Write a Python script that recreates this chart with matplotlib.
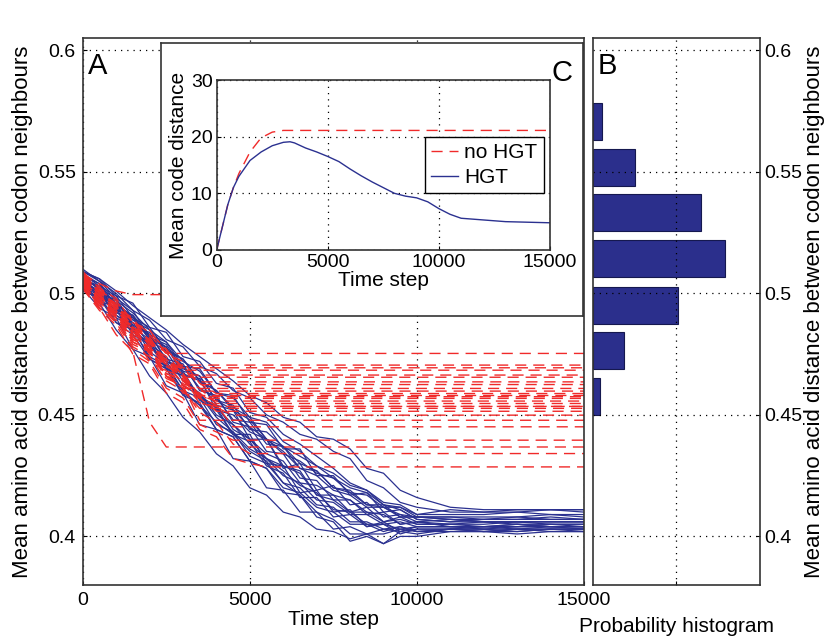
import matplotlib
matplotlib.use("Agg")
import matplotlib.pyplot as plt

plt.rcParams["font.family"] = ["Liberation Sans", "DejaVu Sans"]

# ---- panel A: mean amino acid distance over time ----
t_grid = [0, 500, 1000, 1500, 2000, 2500, 3000, 3500, 4000, 4500, 5000,
          5500, 6000, 6500, 7000, 7500, 8000, 8500, 9000, 9500, 10000,
          11000, 12000, 13000, 14000, 15000]

# HGT runs (blue, solid)
blue_runs = [
    [0.508, 0.503, 0.499, 0.490, 0.486, 0.477, 0.473, 0.464, 0.460, 0.452, 0.448, 0.440, 0.437, 0.430, 0.427, 0.420, 0.418, 0.413, 0.412, 0.409, 0.408, 0.408, 0.407, 0.408, 0.407, 0.407],
    [0.503, 0.499, 0.488, 0.485, 0.474, 0.470, 0.460, 0.457, 0.446, 0.443, 0.433, 0.430, 0.422, 0.420, 0.413, 0.412, 0.406, 0.406, 0.403, 0.404, 0.402, 0.403, 0.402, 0.402, 0.403, 0.402],
    [0.506, 0.500, 0.497, 0.487, 0.483, 0.473, 0.471, 0.460, 0.458, 0.447, 0.445, 0.435, 0.434, 0.424, 0.423, 0.415, 0.415, 0.409, 0.410, 0.405, 0.406, 0.405, 0.405, 0.406, 0.405, 0.405],
    [0.509, 0.506, 0.499, 0.496, 0.486, 0.484, 0.474, 0.472, 0.463, 0.461, 0.451, 0.449, 0.442, 0.438, 0.433, 0.428, 0.422, 0.419, 0.413, 0.412, 0.408, 0.407, 0.406, 0.406, 0.406, 0.406],
    [0.502, 0.494, 0.490, 0.477, 0.474, 0.462, 0.459, 0.446, 0.444, 0.432, 0.431, 0.420, 0.419, 0.410, 0.410, 0.403, 0.404, 0.401, 0.403, 0.402, 0.403, 0.403, 0.404, 0.403, 0.403, 0.403],
    [0.505, 0.503, 0.492, 0.490, 0.481, 0.476, 0.466, 0.465, 0.452, 0.450, 0.443, 0.440, 0.428, 0.430, 0.419, 0.421, 0.413, 0.414, 0.408, 0.409, 0.406, 0.407, 0.406, 0.406, 0.406, 0.406],
    [0.507, 0.498, 0.496, 0.485, 0.479, 0.470, 0.466, 0.458, 0.453, 0.442, 0.442, 0.430, 0.429, 0.418, 0.419, 0.410, 0.411, 0.404, 0.406, 0.402, 0.404, 0.404, 0.404, 0.405, 0.404, 0.404],
    [0.504, 0.501, 0.493, 0.491, 0.481, 0.478, 0.467, 0.464, 0.454, 0.452, 0.440, 0.440, 0.429, 0.427, 0.417, 0.417, 0.410, 0.412, 0.406, 0.408, 0.405, 0.405, 0.404, 0.404, 0.404, 0.404],
    [0.510, 0.505, 0.500, 0.493, 0.489, 0.481, 0.478, 0.470, 0.467, 0.460, 0.457, 0.450, 0.447, 0.442, 0.440, 0.435, 0.432, 0.423, 0.420, 0.414, 0.412, 0.410, 0.410, 0.410, 0.411, 0.410],
    [0.501, 0.498, 0.490, 0.486, 0.473, 0.469, 0.459, 0.454, 0.444, 0.441, 0.431, 0.428, 0.418, 0.417, 0.408, 0.406, 0.398, 0.400, 0.397, 0.402, 0.401, 0.403, 0.403, 0.402, 0.403, 0.403],
    [0.506, 0.502, 0.498, 0.486, 0.481, 0.472, 0.468, 0.457, 0.453, 0.446, 0.440, 0.434, 0.431, 0.422, 0.421, 0.417, 0.415, 0.410, 0.409, 0.405, 0.406, 0.404, 0.404, 0.404, 0.405, 0.404],
    [0.503, 0.500, 0.491, 0.486, 0.478, 0.472, 0.462, 0.458, 0.449, 0.443, 0.436, 0.432, 0.425, 0.422, 0.415, 0.414, 0.409, 0.409, 0.405, 0.406, 0.404, 0.404, 0.403, 0.404, 0.404, 0.404],
    [0.508, 0.501, 0.497, 0.489, 0.485, 0.476, 0.473, 0.464, 0.460, 0.453, 0.449, 0.440, 0.435, 0.428, 0.425, 0.419, 0.417, 0.412, 0.412, 0.408, 0.408, 0.407, 0.407, 0.407, 0.408, 0.407],
    [0.505, 0.501, 0.491, 0.487, 0.476, 0.471, 0.460, 0.454, 0.447, 0.442, 0.435, 0.431, 0.422, 0.417, 0.410, 0.407, 0.401, 0.401, 0.397, 0.400, 0.400, 0.402, 0.402, 0.401, 0.402, 0.402],
    [0.507, 0.504, 0.497, 0.492, 0.485, 0.480, 0.472, 0.468, 0.459, 0.457, 0.449, 0.447, 0.439, 0.435, 0.429, 0.426, 0.421, 0.419, 0.414, 0.413, 0.409, 0.409, 0.409, 0.410, 0.409, 0.409],
    [0.504, 0.497, 0.494, 0.483, 0.479, 0.469, 0.466, 0.457, 0.454, 0.444, 0.440, 0.432, 0.429, 0.426, 0.417, 0.415, 0.410, 0.410, 0.406, 0.407, 0.405, 0.405, 0.406, 0.405, 0.405, 0.405],
    [0.509, 0.505, 0.498, 0.493, 0.482, 0.479, 0.469, 0.466, 0.456, 0.452, 0.445, 0.440, 0.434, 0.431, 0.426, 0.424, 0.418, 0.417, 0.412, 0.412, 0.409, 0.411, 0.410, 0.411, 0.411, 0.411],
    [0.502, 0.498, 0.488, 0.483, 0.473, 0.469, 0.458, 0.455, 0.444, 0.441, 0.431, 0.428, 0.420, 0.418, 0.412, 0.410, 0.405, 0.405, 0.402, 0.404, 0.402, 0.403, 0.403, 0.403, 0.404, 0.403],
    [0.503, 0.496, 0.485, 0.477, 0.466, 0.459, 0.449, 0.443, 0.434, 0.429, 0.420, 0.417, 0.410, 0.408, 0.403, 0.402, 0.399, 0.401, 0.401, 0.403, 0.402, 0.402, 0.402, 0.403, 0.402, 0.402],
    [0.507, 0.502, 0.496, 0.490, 0.482, 0.478, 0.468, 0.466, 0.456, 0.454, 0.444, 0.443, 0.437, 0.433, 0.429, 0.424, 0.420, 0.418, 0.413, 0.411, 0.407, 0.406, 0.406, 0.406, 0.406, 0.406],
    [0.505, 0.499, 0.493, 0.484, 0.480, 0.470, 0.467, 0.456, 0.452, 0.442, 0.439, 0.429, 0.426, 0.416, 0.416, 0.408, 0.409, 0.404, 0.405, 0.401, 0.403, 0.403, 0.402, 0.403, 0.403, 0.403],
    [0.508, 0.504, 0.495, 0.491, 0.483, 0.480, 0.470, 0.469, 0.459, 0.458, 0.447, 0.446, 0.436, 0.436, 0.425, 0.425, 0.417, 0.418, 0.410, 0.411, 0.407, 0.406, 0.407, 0.407, 0.407, 0.407],
    [0.504, 0.500, 0.495, 0.486, 0.484, 0.472, 0.470, 0.461, 0.457, 0.448, 0.447, 0.438, 0.437, 0.428, 0.427, 0.420, 0.419, 0.413, 0.413, 0.408, 0.408, 0.408, 0.408, 0.408, 0.409, 0.408],
    [0.506, 0.503, 0.494, 0.488, 0.479, 0.474, 0.464, 0.459, 0.450, 0.446, 0.438, 0.432, 0.427, 0.421, 0.418, 0.411, 0.410, 0.405, 0.405, 0.403, 0.404, 0.404, 0.404, 0.405, 0.404, 0.404],
    [0.509, 0.506, 0.501, 0.495, 0.490, 0.485, 0.479, 0.474, 0.469, 0.464, 0.458, 0.455, 0.449, 0.447, 0.441, 0.440, 0.436, 0.428, 0.426, 0.419, 0.416, 0.412, 0.411, 0.411, 0.411, 0.411],
]

# no-HGT runs (red, dashed): values until the code freezes, last value = plateau
red_runs = [
    [0.507, 0.500, 0.496, 0.486, 0.483, 0.4753],
    [0.505, 0.497, 0.493, 0.482, 0.478, 0.4705],
    [0.508, 0.503, 0.494, 0.490, 0.480, 0.477, 0.4684],
    [0.504, 0.500, 0.490, 0.487, 0.476, 0.473, 0.4664],
    [0.506, 0.498, 0.494, 0.484, 0.481, 0.471, 0.469, 0.4636],
    [0.503, 0.495, 0.490, 0.479, 0.476, 0.466, 0.4609],
    [0.509, 0.502, 0.498, 0.488, 0.485, 0.475, 0.472, 0.463, 0.4588],
    [0.505, 0.496, 0.492, 0.481, 0.478, 0.467, 0.465, 0.4568],
    [0.507, 0.501, 0.493, 0.489, 0.478, 0.474, 0.464, 0.461, 0.4547],
    [0.502, 0.494, 0.489, 0.478, 0.474, 0.464, 0.460, 0.4527],
    [0.506, 0.497, 0.494, 0.483, 0.480, 0.468, 0.466, 0.455, 0.453, 0.4499],
    [0.504, 0.496, 0.491, 0.480, 0.476, 0.465, 0.462, 0.4478],
    [0.508, 0.501, 0.495, 0.486, 0.481, 0.471, 0.467, 0.457, 0.454, 0.4451],
    [0.503, 0.494, 0.488, 0.477, 0.472, 0.461, 0.457, 0.446, 0.443, 0.4396],
    [0.505, 0.494, 0.483, 0.476, 0.447, 0.4368],
    [0.506, 0.499, 0.492, 0.482, 0.477, 0.466, 0.461, 0.451, 0.447, 0.438, 0.4341],
    [0.502, 0.493, 0.487, 0.475, 0.471, 0.459, 0.455, 0.444, 0.441, 0.432, 0.430, 0.4286],
    [0.506, 0.499, 0.495, 0.485, 0.482, 0.472, 0.469, 0.4625],
    [0.504, 0.498, 0.490, 0.485, 0.475, 0.471, 0.463, 0.4598],
    [0.508, 0.500, 0.495, 0.485, 0.481, 0.470, 0.467, 0.458, 0.4557],
    [0.505, 0.499, 0.491, 0.486, 0.476, 0.472, 0.462, 0.459, 0.4535],
    [0.507, 0.499, 0.494, 0.484, 0.481, 0.470, 0.466, 0.4575],
    [0.503, 0.497, 0.488, 0.483, 0.472, 0.468, 0.459, 0.457, 0.4515],
    [0.506, 0.501, 0.497, 0.488, 0.484, 0.477, 0.4694],
    [0.508, 0.504, 0.501, 0.4995],
    [0.505, 0.497, 0.492, 0.481, 0.478, 0.467, 0.464, 0.4580],
    [0.507, 0.502, 0.495, 0.489, 0.479, 0.476, 0.4655],
    [0.504, 0.495, 0.491, 0.480, 0.477, 0.466, 0.463, 0.455, 0.4535],
]

# ---- panel C (inset): mean code distance ----
c_time = [0, 250, 500, 750, 1000, 1500, 2000, 2500, 3000, 3300, 3500, 4000,
          4500, 5000, 5500, 6000, 6500, 7000, 7500, 8000, 8500, 9000, 9500,
          10000, 10500, 11000, 12000, 13000, 14000, 15000]
c_hgt = [0, 4, 8, 11, 13, 15.8, 17.3, 18.4, 19.0, 19.1, 18.9, 18.0,
         17.3, 16.5, 15.6, 14.3, 13.1, 12.0, 11.0, 10.0, 9.5, 9.2, 8.5,
         7.3, 6.3, 5.6, 5.3, 5.0, 4.9, 4.8]
c_time_nohgt = [0, 250, 500, 750, 1000, 1500, 2000, 2500, 3000, 15000]
c_nohgt = [0, 4, 8, 11, 13.5, 17.3, 19.8, 20.8, 21.1, 21.1]

# ---- panel B: probability histogram ----
hist_centers = [0.4575, 0.4765, 0.4952, 0.5143, 0.5332, 0.5517, 0.5706]
hist_probs = [0.018, 0.075, 0.205, 0.316, 0.259, 0.100, 0.022]

RED = "#f02a2a"
BLUE = "#2b3190"
NAVY = "#2b2f8c"
SPINE = "#333333"
GRID = dict(color="black", linestyle=(0, (1, 4)), linewidth=0.9)
YLABEL = "Mean amino acid distance between codon neighbours"

fig = plt.figure(figsize=(8.29, 6.39), dpi=100)

# main panel A
axA = fig.add_axes([0.0998, 0.0845, 0.6047, 0.8556])
for run in blue_runs:
    axA.plot(t_grid[:len(run)], run, color=BLUE, lw=0.9)
for run in red_runs:
    xs = t_grid[:len(run)] + [15000]
    ys = run + [run[-1]]
    axA.plot(xs, ys, color=RED, lw=1.0, dashes=(8, 5))
axA.set_xlim(0, 15000)
axA.set_ylim(0.38, 0.605)
axA.set_xticks([0, 5000, 10000, 15000])
axA.set_yticks([0.4, 0.45, 0.5, 0.55, 0.6])
axA.set_yticklabels(["0.4", "0.45", "0.5", "0.55", "0.6"])
axA.grid(True, **GRID)
axA.tick_params(direction="in", length=3, labelsize=14, pad=5)
axA.set_xlabel("Time step", fontsize=15, labelpad=1)
axA.set_ylabel(YLABEL, fontsize=16, labelpad=3)
axA.text(0.01, 0.975, "A", transform=axA.transAxes, fontsize=21,
         va="top", ha="left")
for s in axA.spines.values():
    s.set_color(SPINE)
    s.set_linewidth(1.2)

# panel B
axB = fig.add_axes([0.715, 0.0845, 0.2018, 0.8556])
axB.barh(hist_centers, hist_probs, height=0.0152, color=NAVY,
         edgecolor="#15184f", linewidth=0.8)
axB.set_xlim(0, 0.4)
axB.set_ylim(0.38, 0.605)
axB.set_xticks([0.2])
axB.set_xticklabels([])
axB.set_yticks([0.4, 0.45, 0.5, 0.55, 0.6])
axB.set_yticklabels(["0.4", "0.45", "0.5", "0.55", "0.6"])
axB.yaxis.tick_right()
axB.yaxis.set_label_position("right")
axB.grid(True, **GRID)
axB.tick_params(direction="in", length=3, labelsize=14, pad=3)
axB.set_xlabel("Probability histogram", fontsize=15, labelpad=20)
axB.set_ylabel(YLABEL, fontsize=16, labelpad=1)
axB.text(0.03, 0.975, "B", transform=axB.transAxes, fontsize=21,
         va="top", ha="left")
for s in axB.spines.values():
    s.set_color(SPINE)
    s.set_linewidth(1.2)

# inset box for C
axBox = fig.add_axes([0.1938, 0.5055, 0.5095, 0.4272])
axBox.set_xticks([])
axBox.set_yticks([])
axBox.set_facecolor("white")
for s in axBox.spines.values():
    s.set_color(SPINE)
    s.set_linewidth(1.2)
fig.text(0.678, 0.886, "C", fontsize=21, ha="center", va="center")

# inset C axes
axC = fig.add_axes([0.2614, 0.6088, 0.402, 0.266])
axC.plot(c_time_nohgt, c_nohgt, color=RED, lw=1.0, dashes=(8, 5),
         label="no HGT")
axC.plot(c_time, c_hgt, color=BLUE, lw=1.0, label="HGT")
axC.set_xlim(0, 15000)
axC.set_ylim(0, 30)
axC.set_xticks([0, 5000, 10000, 15000])
axC.set_yticks([0, 10, 20, 30])
axC.grid(True, **GRID)
axC.tick_params(direction="in", length=3, labelsize=14, pad=3)
axC.set_xlabel("Time step", fontsize=15, labelpad=0)
axC.set_ylabel("Mean code distance", fontsize=15, labelpad=2)
for s in axC.spines.values():
    s.set_color(SPINE)
    s.set_linewidth(1.2)
leg = axC.legend(loc="center right", fontsize=15, handlelength=1.3,
                 handletextpad=0.3, borderpad=0.3, labelspacing=0.3,
                 fancybox=False, framealpha=1, borderaxespad=0.3)
leg.get_frame().set_edgecolor("black")
leg.get_frame().set_linewidth(1.0)

fig.savefig("out.png", dpi=100)
